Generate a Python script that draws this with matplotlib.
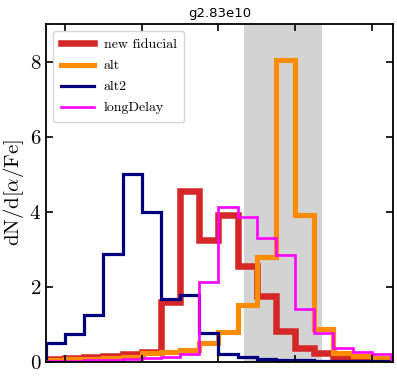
import numpy as np
import matplotlib
matplotlib.use("Agg")
import matplotlib.pyplot as plt

plt.rcParams['font.family'] = ['cmr10', 'DejaVu Serif']
plt.rcParams['mathtext.fontset'] = 'cm'
plt.rcParams['axes.formatter.use_mathtext'] = True

# bin edges in [alpha/Fe]
edges = np.arange(-0.025, 0.4251, 0.025)

new_fiducial = [0.09, 0.10, 0.12, 0.15, 0.20, 0.27, 1.60, 4.55, 3.26, 3.91,
                2.55, 1.76, 0.82, 0.37, 0.23, 0.13, 0.08, 0.05]
alt = [0.06, 0.07, 0.08, 0.10, 0.13, 0.23, 0.27, 0.33, 0.51, 0.80,
       1.51, 2.80, 8.05, 3.92, 0.89, 0.24, 0.17, 0.11]
alt2 = [0.51, 0.74, 1.25, 2.87, 5.00, 4.00, 1.69, 1.78, 0.76, 0.21,
        0.13, 0.09, 0.05, 0.04, 0.03, 0.03, 0.02, 0.02]
long_delay = [0.02, 0.03, 0.04, 0.05, 0.08, 0.10, 0.13, 0.20, 2.13, 4.13,
              3.87, 3.29, 2.85, 1.42, 0.76, 0.36, 0.27, 0.20]

labels = ['new fiducial', 'alt', 'alt2', 'longDelay']
colors = ['#d62728', '#ff8c00', '#000080', '#ff00ff']
widths = [4.7, 3.7, 2.3, 1.9]
shade = (0.2338, 0.3355)
yticks = [0, 2, 4, 6, 8]

fig = plt.figure(figsize=(3.97, 3.78), dpi=100)
ax = fig.add_axes([46/397, 1-362/378, (393-46)/397, (362-24)/378])

ax.axvspan(shade[0], shade[1], color='#d3d3d3', lw=0, zorder=0)

for vals, lab, c, w in zip([new_fiducial, alt, alt2, long_delay], labels, colors, widths):
    ax.stairs(vals, edges, color=c, lw=w, label=lab, baseline=0)

ax.set_xlim(-0.0248, 0.4277)
ax.set_ylim(0, 9)
ax.set_yticks(yticks)
ax.set_xticks([0.0, 0.1, 0.2, 0.3, 0.4])
ax.set_xticklabels([])
ax.tick_params(direction='in', top=True, right=True, length=5, width=1.2, labelsize=15)
for s in ax.spines.values():
    s.set_linewidth(1.3)

ax.set_ylabel(r'$\rm dN/d[\alpha/Fe]$', fontsize=15, labelpad=2)
ax.set_title('g2.83e10', fontsize=9.5, family='DejaVu Sans', pad=5)

leg = ax.legend(loc='upper left', fontsize=10, handlelength=2.4, handletextpad=0.7,
                labelspacing=0.6, borderpad=0.55, borderaxespad=0.5,
                fancybox=True, framealpha=0.8)

fig.savefig('out.png', dpi=100)
